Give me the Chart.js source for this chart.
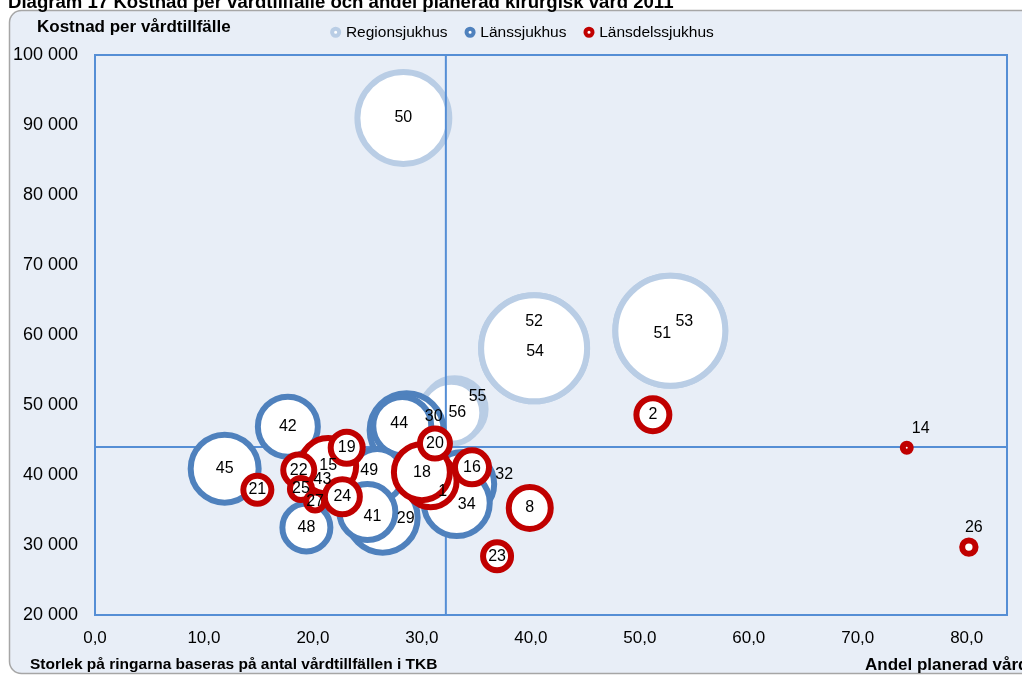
<!DOCTYPE html>
<html><head><meta charset="utf-8">
<script src="https://cdn.jsdelivr.net/npm/chart.js@4.4.1/dist/chart.umd.min.js"></script>
<style>html,body{margin:0;padding:0;background:#fff;overflow:hidden}canvas{display:block}</style>
</head><body>
<canvas id="c" width="1022" height="675"></canvas>
<script>
// ---- data ----
const seriesNames = ['Regionsjukhus', 'Länssjukhus', 'Länsdelssjukhus'];
const regionIds = ['55', '56', '50', '52', '54', '51', '53'];
const regionX   = [33.0, 32.7, 28.3, 40.3, 40.3, 52.8, 52.8];
const regionY   = [49400, 48900, 91000, 58100, 58100, 60600, 60600];
const regionVol = [1430, 1430, 2960, 3870, 3870, 4150, 4150];

const lansIds = ['43', '30', '44', '29', '49', '41', '48', '32', '34', '42', '45'];
const lansX   = [20.6, 28.6, 28.2, 26.4, 25.9, 25.0, 19.4, 33.7, 33.2, 17.7, 11.9];
const lansY   = [39000, 46400, 47000, 33900, 40000, 34700, 32500, 38700, 36000, 46900, 40900];
const lansVol = [1110, 1975, 1264, 1783, 1038, 1186, 900, 1512, 1600, 1344, 1690];

const delsIds = ['1', '15', '18', '20', '22', '25', '27', '24', '19', '16', '21', '2', '8', '23', '14', '26'];
const delsX   = [30.8, 21.4, 30.0, 31.2, 18.7, 18.9, 20.2, 22.7, 23.1, 34.6, 14.9, 51.2, 39.9, 36.9, 74.5, 80.2];
const delsY   = [39100, 41300, 40400, 44500, 40700, 38000, 36200, 36900, 43900, 41100, 37900, 48600, 35300, 28400, 43900, 29700];
const delsVol = [1038, 1186, 1186, 400, 423, 242, 178, 519, 446, 494, 357, 469, 711, 357, 60, 116];

const xTickValues = [0, 10, 20, 30, 40, 50, 60, 70, 80];
const yTickValues = [20000, 30000, 40000, 50000, 60000, 70000, 80000, 90000, 100000];
const crossX = 32.2;
const crossY = 44000;

// ---- presentation ----
const FONT = "'Liberation Sans', Arial, sans-serif";
Chart.defaults.font.family = FONT;
const colors = ['#B9CDE5', '#4F81BD', '#C00000'];
const BORDER = 6;
const radiusOf = v => 0.9 * Math.sqrt(v) - BORDER / 2;
const labelShift = {
  '52': [0, -27], '54': [1, 3], '51': [-8, 3], '53': [14, -9], '55': [23, -13], '56': [6, 0],
  '30': [27, -14], '44': [-3, -2], '29': [23, 1], '41': [5, 4], '49': [-8, -4], '32': [42, -10],
  '34': [10, 2], '1': [12, 10], '43': [3, -2], '14': [14, -19], '26': [5, -20]
};

function build(ids, xs, ys, vols) {
  return ids.map((id, i) => ({ x: xs[i], y: ys[i], r: radiusOf(vols[i]), id }));
}
const datasets = [
  { label: seriesNames[0], data: build(regionIds, regionX, regionY, regionVol), order: 2 },
  { label: seriesNames[1], data: build(lansIds, lansX, lansY, lansVol), order: 1 },
  { label: seriesNames[2], data: build(delsIds, delsX, delsY, delsVol), order: 0 }
].map((d, i) => Object.assign(d, {
  backgroundColor: '#FFFFFF', borderColor: colors[i], borderWidth: BORDER,
  hoverBorderWidth: BORDER, clip: false
}));

const bgPlugin = {
  id: 'bg',
  beforeDraw(chart) {
    const ctx = chart.ctx;
    ctx.save();
    ctx.fillStyle = '#FFFFFF';
    ctx.fillRect(0, 0, chart.width, chart.height);
    ctx.beginPath();
    ctx.roundRect(9.5, 10.5, 1040, 663, 12);
    ctx.fillStyle = '#E8EEF7';
    ctx.fill();
    ctx.strokeStyle = '#A6A6A6';
    ctx.lineWidth = 1.5;
    ctx.stroke();
    ctx.fillStyle = '#000';
    ctx.textBaseline = 'alphabetic';
    ctx.font = 'bold 18.6px ' + FONT;
    ctx.fillText('Diagram 17 Kostnad per vårdtillfälle och andel planerad kirurgisk vård 2011', 8, 8);
    ctx.font = 'bold 17px ' + FONT;
    ctx.fillText('Kostnad per vårdtillfälle', 37, 32);
    ctx.font = 'bold 15.5px ' + FONT;
    ctx.fillText('Storlek på ringarna baseras på antal vårdtillfällen i TKB', 30, 669);
    ctx.font = 'bold 17px ' + FONT;
    ctx.fillText('Andel planerad vård', 865, 670);
    ctx.restore();
  },
  afterLayout(chart) {
    const lg = chart.legend;
    lg.left += 20; lg.right += 20; lg.top -= 5; lg.bottom -= 5;
  },
  beforeDatasetsDraw(chart) {
    const { ctx, chartArea: a } = chart;
    ctx.save();
    ctx.strokeStyle = '#558ED5';
    ctx.lineWidth = 2;
    ctx.strokeRect(a.left, a.top, a.right - a.left, a.bottom - a.top);
    ctx.restore();
  },
  afterDatasetDraw(chart, args) {
    if (args.index !== 0) return;
    const { ctx, chartArea: a, scales } = chart;
    const px = scales.x.getPixelForValue(crossX);
    const py = scales.y.getPixelForValue(crossY);
    ctx.save();
    ctx.strokeStyle = '#558ED5';
    ctx.lineWidth = 2;
    ctx.beginPath();
    ctx.moveTo(px, a.top); ctx.lineTo(px, a.bottom);
    ctx.moveTo(a.left, py); ctx.lineTo(a.right, py);
    ctx.stroke();
    ctx.restore();
  },
  afterDatasetsDraw(chart) {
    const ctx = chart.ctx;
    ctx.save();
    ctx.font = '16px ' + FONT;
    ctx.fillStyle = '#000';
    ctx.textAlign = 'center';
    ctx.textBaseline = 'middle';
    chart.data.datasets.forEach((ds, di) => {
      const meta = chart.getDatasetMeta(di);
      meta.data.forEach((el, i) => {
        const id = ds.data[i].id;
        const s = labelShift[id] || [0, 0];
        ctx.fillText(id, el.x + s[0], el.y + s[1]);
      });
    });
    ctx.restore();
  }
};

new Chart(document.getElementById('c'), {
  type: 'bubble',
  data: { datasets },
  options: {
    responsive: false,
    animation: false,
    events: [],
    layout: { autoPadding: false, padding: { top: 9.5, right: 15, left: 0, bottom: 0 } },
    plugins: {
      tooltip: { enabled: false },
      title: { display: false },
      legend: {
        position: 'top',
        align: 'center',
        labels: {
          usePointStyle: true, boxWidth: 5, boxHeight: 5, padding: 20,
          color: '#000', font: { size: 15.5 },
          generateLabels: chart => chart.data.datasets.map((d, i) => ({
            text: d.label, fillStyle: '#FFFFFF', strokeStyle: d.borderColor, lineWidth: 4,
            pointStyle: 'circle', datasetIndex: i, hidden: false, fontColor: '#000'
          }))
        }
      }
    },
    scales: {
      x: {
        type: 'linear', min: 0, max: 83.7,
        afterBuildTicks: s => { s.ticks = xTickValues.map(v => ({ value: v })); },
        afterFit: s => { s.height = 60; },
        ticks: { callback: v => v.toFixed(1).replace('.', ','), color: '#000', font: { size: 17 }, padding: 13, maxRotation: 0, autoSkip: false },
        grid: { display: false, drawTicks: false },
        border: { display: false }
      },
      y: {
        type: 'linear', min: 20000, max: 100000,
        afterBuildTicks: s => { s.ticks = yTickValues.map(v => ({ value: v })); },
        afterFit: s => { s.width = 95; },
        ticks: { callback: v => String(v).replace(/\B(?=(\d{3})+(?!\d))/g, ' '), color: '#000', font: { size: 18 }, padding: 17, autoSkip: false },
        grid: { display: false, drawTicks: false },
        border: { display: false }
      }
    }
  },
  plugins: [bgPlugin]
});
</script>
</body></html>
